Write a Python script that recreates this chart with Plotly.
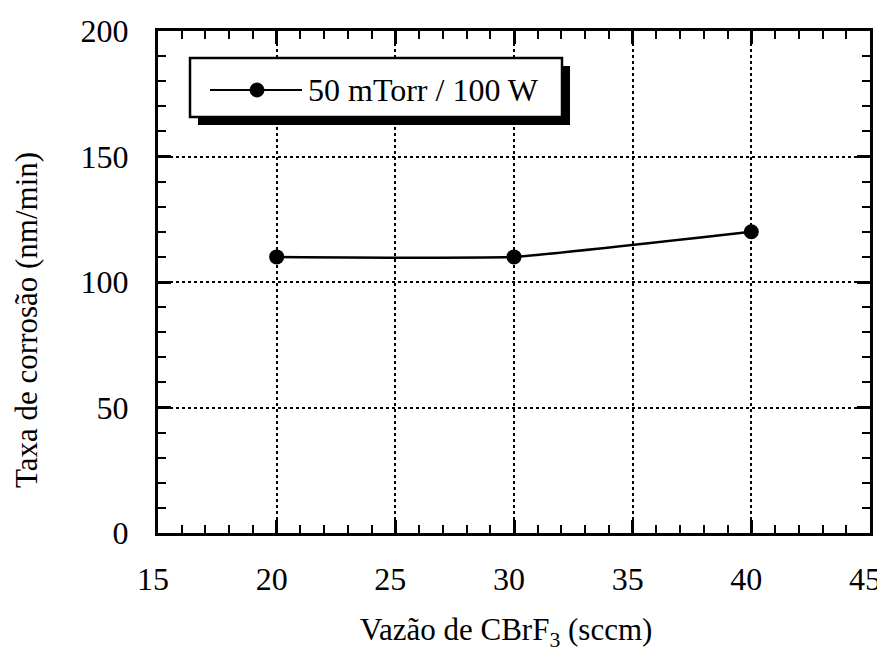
import plotly.graph_objects as go

# Data
flow_sccm = [20, 30, 40]
etch_rate = [110, 110, 120]
series_name = "50 mTorr / 100 W"
x_ticks = [15, 20, 25, 30, 35, 40, 45]
y_ticks = [0, 50, 100, 150, 200]

OFF = 8  # default page body margin
W, H = 885, 662 - 2 * OFF
# plot area in page px
L, R, T, B = 158, 870, 31, 533

def px(x):
    return (x - L) / (R - L)

def py(y):
    return (B - y) / (B - T)

FONT = "Liberation Serif"

fig = go.Figure()
fig.add_trace(go.Scatter(
    x=flow_sccm, y=etch_rate, mode="lines+markers", name=series_name,
    line=dict(color="black", width=2.5, shape="spline", smoothing=0.35),
    marker=dict(color="black", size=15), showlegend=False,
))

axis_common = dict(
    showline=True, linecolor="black", linewidth=3, mirror="allticks",
    ticks="inside", ticklen=13, tickwidth=2.5, tickcolor="black",
    showgrid=True, gridcolor="black", gridwidth=2, griddash="dot",
    zeroline=False, automargin=False, ticklabeloverflow="allow",
    tickfont=dict(family=FONT, size=32, color="black"),
)

fig.update_xaxes(range=[15, 45], tickvals=x_ticks,
                 minor=dict(dtick=1, ticks="inside", ticklen=8, tickwidth=2, tickcolor="black", showgrid=False),
                 ticklabelstandoff=16, ticklabelshift=-5, **axis_common)
fig.update_yaxes(range=[0, 200], tickvals=y_ticks,
                 minor=dict(dtick=10, ticks="inside", ticklen=8, tickwidth=2, tickcolor="black", showgrid=False),
                 ticklabelstandoff=20, **axis_common)

shapes = []
sh = 8
shapes.append(dict(type="rect", xref="paper", yref="paper",
                   x0=px(190 + sh), x1=px(562 + sh), y0=py(117 + sh), y1=py(58 + sh),
                   fillcolor="black", line=dict(color="black", width=0), layer="above"))
shapes.append(dict(type="rect", xref="paper", yref="paper",
                   x0=px(190), x1=px(562), y0=py(117), y1=py(58),
                   fillcolor="white", line=dict(color="black", width=2.5), layer="above"))
shapes.append(dict(type="line", xref="paper", yref="paper",
                   x0=px(210), x1=px(302), y0=py(90), y1=py(90),
                   line=dict(color="black", width=2), layer="above"))
shapes.append(dict(type="circle", xref="paper", yref="paper",
                   x0=px(250), x1=px(264), y0=py(97), y1=py(83),
                   fillcolor="black", line=dict(color="black", width=1), layer="above"))

annotations = [
    dict(text=series_name, xref="paper", yref="paper", x=px(306), y=py(90),
         xanchor="left", yanchor="middle", showarrow=False,
         font=dict(family=FONT, size=32, color="black")),
    dict(text="Taxa de corrosão (nm/min)", xref="paper", yref="paper",
         x=px(27), y=py(320), textangle=-90, xanchor="center", yanchor="middle",
         showarrow=False, font=dict(family=FONT, size=31, color="black")),
    dict(text="Vazão de CBrF<sub>3</sub> (sccm)", xref="paper", yref="paper",
         x=px(506), y=py(632), xanchor="center", yanchor="middle",
         showarrow=False, font=dict(family=FONT, size=31, color="black")),
]

fig.update_layout(
    width=W, height=H, autosize=False,
    margin=dict(l=L - OFF, r=(W + OFF) - R, t=T - OFF, b=(H + OFF) - B, autoexpand=False),
    paper_bgcolor="white", plot_bgcolor="white",
    shapes=shapes, annotations=annotations, showlegend=False,
)

fig.write_html("out.html")
